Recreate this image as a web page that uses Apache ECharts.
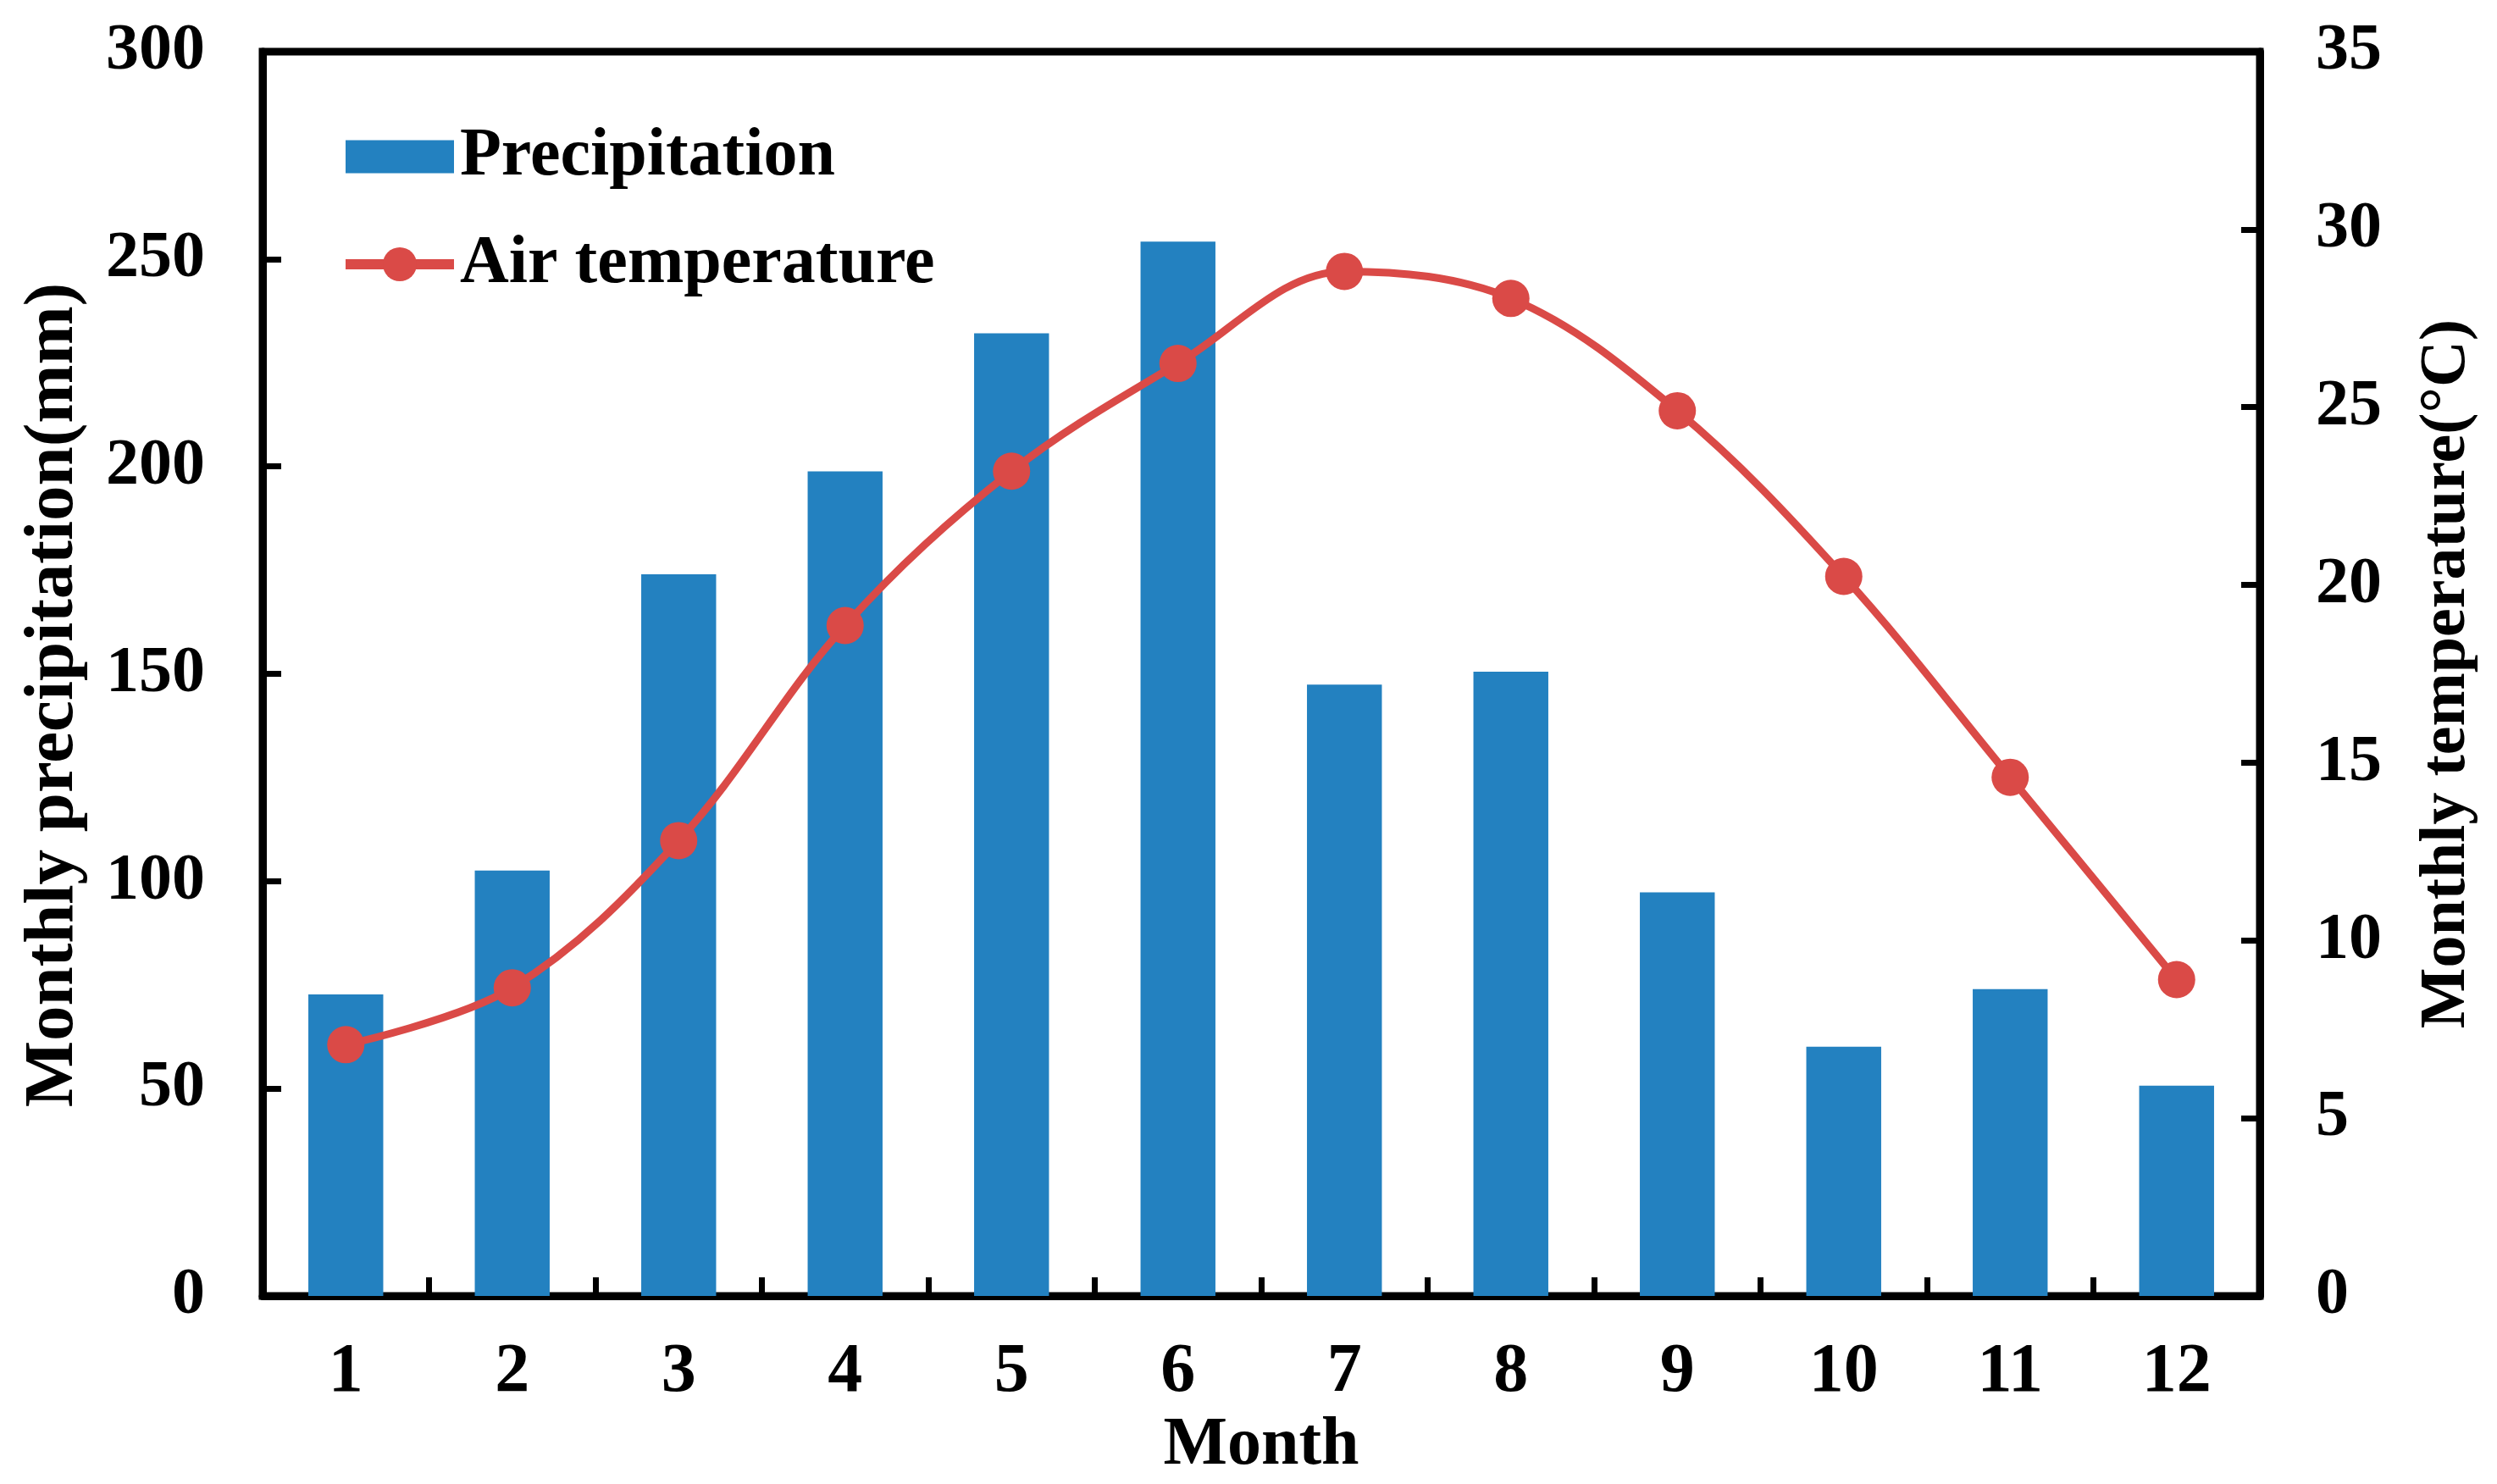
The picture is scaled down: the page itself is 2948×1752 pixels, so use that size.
<!DOCTYPE html>
<html>
<head>
<meta charset="utf-8">
<script src="https://cdn.jsdelivr.net/npm/echarts@6/dist/echarts.min.js"></script>
<style>
html,body{margin:0;padding:0;background:#fff;}
#chart{width:2948px;height:1752px;}
</style>
</head>
<body>
<div id="chart"></div>
<script>
const months = ['1','2','3','4','5','6','7','8','9','10','11','12'];
const precipitation = [72.7, 102.6, 174.0, 198.8, 232.1, 254.2, 147.4, 150.5, 97.3, 60.1, 74.0, 50.7];
const temperature = [7.07, 8.67, 12.81, 18.86, 23.2, 26.23, 28.82, 28.06, 24.9, 20.24, 14.59, 8.9];
const precipTicks = [0, 50, 100, 150, 200, 250, 300];
const tempTicks = [0, 5, 10, 15, 20, 25, 30, 35];

const FONT = 'Liberation Serif';
const chart = echarts.init(document.getElementById('chart'), null, {renderer: 'canvas'});
const axisLine = {show: true, lineStyle: {color: '#000', width: 9}};
const tick = {show: true, inside: true, length: 22, lineStyle: {color: '#000', width: 7}};
const option = {
  backgroundColor: '#fff',
  animation: false,
  grid: {left: 310, right: 280, top: 61, bottom: 212, show: true, borderColor: '#000', borderWidth: 9, backgroundColor: 'transparent'},
  legend: {
    orient: 'vertical', left: 397, top: 140,
    itemWidth: 128, itemHeight: 50, itemGap: 47,
    lineStyle: {width: 12},
    textStyle: {fontFamily: FONT, fontWeight: 'bold', fontSize: 80, color: '#000', lineHeight: 80, padding: [0,0,0,2]},
    data: [
      {name: 'Precipitation', icon: 'path://M0,0M0,50M0,5.5L128,5.5L128,44.5L0,44.5Z'},
      {name: 'Air temperature'}
    ]
  },
  xAxis: {
    type: 'category', data: months,
    name: 'Month', nameLocation: 'middle', nameGap: 124,
    nameTextStyle: {fontFamily: FONT, fontWeight: 'bold', fontSize: 80, color: '#000'},
    axisLine: axisLine,
    axisTick: tick,
    axisLabel: {fontFamily: FONT, fontWeight: 'bold', fontSize: 82, color: '#000', margin: 50},
    splitLine: {show: false}
  },
  yAxis: [
    {
      type: 'value', min: precipTicks[0], max: precipTicks[precipTicks.length-1], interval: 50,
      name: 'Monthly precipitation(mm)', nameLocation: 'middle', nameGap: 205,
      nameTextStyle: {fontFamily: FONT, fontWeight: 'bold', fontSize: 83, color: '#000', padding: [0, 50, 0, 0]},
      axisLine: axisLine,
      axisTick: tick,
      axisLabel: {fontFamily: FONT, fontWeight: 'bold', fontSize: 78, color: '#000', margin: 68},
      splitLine: {show: false}
    },
    {
      type: 'value', min: tempTicks[0], max: tempTicks[tempTicks.length-1], interval: 5, position: 'right',
      name: 'Monthly temperature(°C)', nameLocation: 'middle', nameGap: 183,
      nameTextStyle: {fontFamily: FONT, fontWeight: 'bold', fontSize: 76, color: '#000'},
      axisLine: axisLine,
      axisTick: tick,
      axisLabel: {fontFamily: FONT, fontWeight: 'bold', fontSize: 78, color: '#000', margin: 66},
      splitLine: {show: false}
    }
  ],
  series: [
    {
      name: 'Precipitation', type: 'bar', data: precipitation, yAxisIndex: 0,
      barWidth: '45%', itemStyle: {color: '#2381C0'}
    },
    {
      name: 'Air temperature', type: 'line', data: temperature, yAxisIndex: 1,
      smooth: 0.35, symbol: 'circle', symbolSize: 44,
      lineStyle: {color: '#DA4A47', width: 9},
      itemStyle: {color: '#DA4A47'}
    }
  ]
};
chart.setOption(option);
</script>
</body>
</html>
